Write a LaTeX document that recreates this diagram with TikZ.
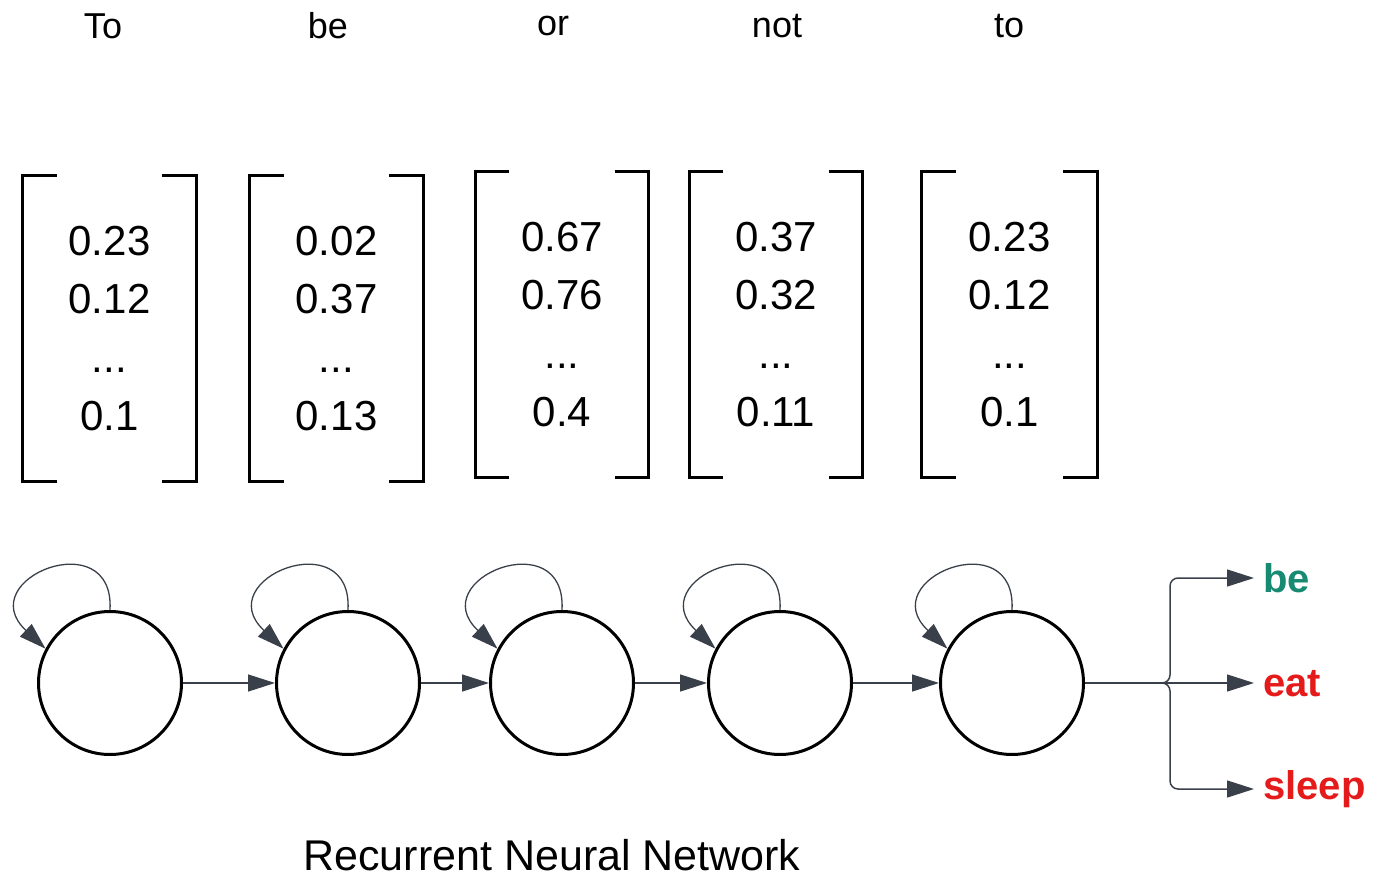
\documentclass[tikz,border=0pt]{standalone}
\usepackage{fontspec}
\setmainfont{Liberation Sans}
\usetikzlibrary{arrows.meta}
\definecolor{arrowgray}{HTML}{3A404A}
\definecolor{predgood}{HTML}{178A72}
\definecolor{predbad}{HTML}{E51B1B}
\begin{document}
\begin{tikzpicture}[x=1pt,y=-1pt,
  vec/.style={minimum width=173pt, minimum height=305pt, align=center, inner sep=0pt,
    font=\fontsize{42}{58.5}\selectfont},
  bracket/.style={line width=3pt},
  cell/.style={circle, draw, line width=3pt, minimum size=143pt, inner sep=0pt},
  link/.style={draw=arrowgray, line width=1.5pt, -{Triangle[length=27pt,width=17pt]}},
  selfloop/.style={draw=arrowgray, line width=1.3pt, -{Triangle[length=27pt,width=17pt]}},
  word/.style={font=\fontsize{36}{40}\selectfont},
  outlabel/.style={font=\fontsize{40}{48}\selectfont\bfseries, anchor=west, inner xsep=9pt, inner ysep=0pt},
]
\useasboundingbox (0,0) rectangle (1376,877);

% input words
\node[word] (w1) at (103,26) {To};
\node[word] (w2) at (328,26) {be};
\node[word] (w3) at (553,26) {or};
\node[word] (w4) at (777,26) {not};
\node[word] (w5) at (1009,26) {to};

% embedding vectors
\node[vec] (v1) at (109.5,328.5) {0.23\\0.12\\...\\0.1};
\node[vec] (v2) at (336.5,328.5) {0.02\\0.37\\...\\0.13};
\node[vec] (v3) at (562,324.5) {0.67\\0.76\\...\\0.4};
\node[vec] (v4) at (776,324.5) {0.37\\0.32\\...\\0.11};
\node[vec, minimum width=175pt] (v5) at (1009.5,324.5) {0.23\\0.12\\...\\0.1};

\foreach \v in {v1,v2,v3,v4,v5} {
  \draw[bracket] ([xshift=34pt]\v.north west) -- (\v.north west) -- (\v.south west) -- ([xshift=34pt]\v.south west);
  \draw[bracket] ([xshift=-34pt]\v.north east) -- (\v.north east) -- (\v.south east) -- ([xshift=-34pt]\v.south east);
}

% recurrent cells
\node[cell] (c1) at (110,683) {};
\node[cell] (c2) at (348,683) {};
\node[cell] (c3) at (562,683) {};
\node[cell] (c4) at (780,683) {};
\node[cell] (c5) at (1012,683) {};

\foreach \a/\b in {c1/c2,c2/c3,c3/c4,c4/c5}
  \draw[link] (\a) -- (\b);

\foreach \c in {c1,c2,c3,c4,c5}
  \draw[selfloop] (\c.90) .. controls +(5,-88) and +(-75,-70) .. (\c.152);

% predicted next words
\node[outlabel, text=predgood] (obe) at (1254,578) {be};
\node[outlabel, text=predbad] (oeat) at (1254,684) {eat};
\node[outlabel, text=predbad] (osleep) at (1254,789) {sleep};
\coordinate (fork) at (1170,683);

\draw[link] (c5.east) -- (c5.east -| oeat.west);
\draw[link, rounded corners=8pt] (c5.east) -- (fork) |- (obe.west);
\draw[link, rounded corners=8pt] (c5.east) -- (fork) |- (osleep.west);

\node[font=\fontsize{43}{48}\selectfont, anchor=base, inner sep=0pt] (cap) at (552,870) {Recurrent Neural Network};
\end{tikzpicture}
\end{document}
